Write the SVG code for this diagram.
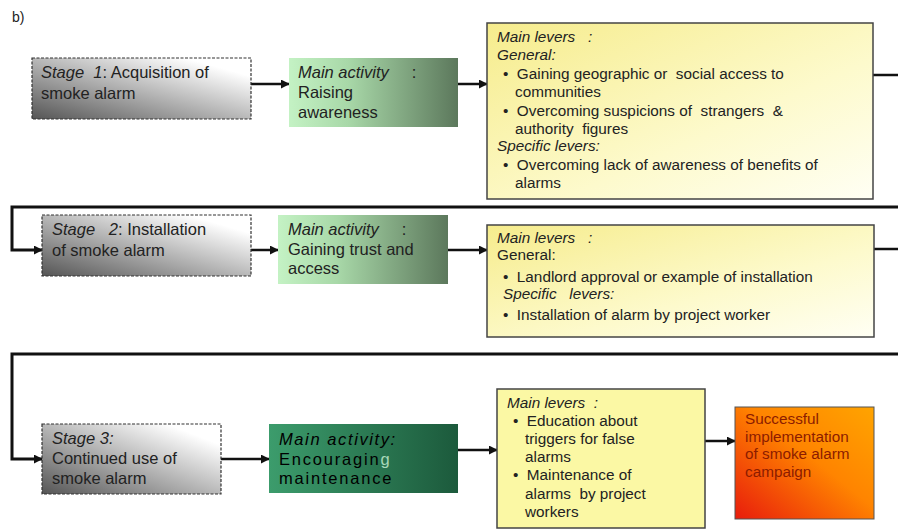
<svg xmlns="http://www.w3.org/2000/svg" width="898" height="529" viewBox="0 0 898 529">
<defs>
<linearGradient id="gStage" x1="0" y1="1" x2="1" y2="0">
<stop offset="0" stop-color="#555555"/><stop offset="0.85" stop-color="#ffffff"/><stop offset="1" stop-color="#ffffff"/>
</linearGradient>
<linearGradient id="gAct" x1="0" y1="0" x2="1" y2="0">
<stop offset="0" stop-color="#c4f2c4"/><stop offset="0.35" stop-color="#a8d8a8"/><stop offset="1" stop-color="#5c785c"/>
</linearGradient>
<linearGradient id="gAct3" x1="0" y1="0" x2="1" y2="0">
<stop offset="0" stop-color="#3c9c6c"/><stop offset="1" stop-color="#1c5a3c"/>
</linearGradient>
<linearGradient id="gLev" x1="0" y1="0" x2="1" y2="1">
<stop offset="0" stop-color="#f6ec8c"/><stop offset="0.6" stop-color="#fdfacc"/><stop offset="1" stop-color="#fffff4"/>
</linearGradient>
<linearGradient id="gEnd" x1="0" y1="1" x2="1" y2="0">
<stop offset="0" stop-color="#e81c0c"/><stop offset="0.55" stop-color="#ff8400"/><stop offset="1" stop-color="#ffa400"/>
</linearGradient>
<marker id="ah" viewBox="0 0 10 10" refX="9" refY="5" markerWidth="9" markerHeight="9" markerUnits="userSpaceOnUse" orient="auto">
<path d="M0,0 L10,5 L0,10 z" fill="#111"/>
</marker>
</defs>
<style>
text{font-family:"Liberation Sans",Arial,sans-serif;fill:#222}
.s{font-size:16.5px}
.l{font-size:15.3px}
.i{font-style:italic}
text.dk{fill:#000000}
text.sh{fill:#6fb08e}
text.rd{fill:#8c1c00}
.stage{fill:url(#gStage);stroke:#333;stroke-width:1.2;stroke-dasharray:3,1.5}
.act{fill:url(#gAct)}
.lev{fill:url(#gLev);stroke:#444;stroke-width:1.5}
.c{fill:none;stroke:#111;stroke-width:2.5}
.t{fill:none;stroke:#111;stroke-width:3}
.a{marker-end:url(#ah)}
</style>
<text x="12" y="22" style="font-size:14px">b)</text>

<g id="connectors">
<line class="c a" x1="251" y1="84" x2="289" y2="84"/>
<line class="c a" x1="458" y1="84" x2="487" y2="84"/>
<line class="c" x1="873" y1="75" x2="898" y2="75"/>
<path class="t a" d="M898,207 H12 V250 H42"/>
<line class="c a" x1="251" y1="250" x2="278" y2="250"/>
<line class="c a" x1="448" y1="250" x2="487" y2="250"/>
<line class="c" x1="874" y1="249" x2="898" y2="249"/>
<path class="t a" d="M898,354 H12 V459 H42"/>
<line class="c a" x1="221" y1="459" x2="269" y2="459"/>
<line class="c a" x1="458" y1="450" x2="497" y2="450"/>
<line class="c a" x1="705" y1="441" x2="735" y2="441"/>
</g>

<g id="stage1">
<rect class="stage" x="32" y="58" width="219" height="61"/>
<text class="s" x="41" y="78"><tspan class="i">Stage&#160; 1</tspan>: Acquisition of</text>
<text class="s" x="41" y="99">smoke alarm</text>
</g>
<g id="activity1">
<rect class="act" x="289" y="58" width="169" height="69"/>
<text class="s" x="298" y="78"><tspan class="i">Main activity</tspan>&#160;&#160;&#160;&#160; :</text>
<text class="s" x="298" y="98">Raising</text>
<text class="s" x="298" y="118">awareness</text>
</g>
<g id="levers1">
<rect class="lev" x="487" y="23" width="386" height="176"/>
<text class="l i" x="497" y="42">Main levers&#160;&#160; :</text>
<text class="l i" x="497" y="60">General:</text>
<text class="l" x="503" y="79">•&#160; Gaining geographic or&#160; social access to</text>
<text class="l" x="515" y="97">communities</text>
<text class="l" x="503" y="116">•&#160; Overcoming suspicions of&#160; strangers&#160; &amp;</text>
<text class="l" x="515" y="134">authority&#160; figures</text>
<text class="l i" x="497" y="151">Specific levers:</text>
<text class="l" x="503" y="170">•&#160; Overcoming lack of awareness of benefits of</text>
<text class="l" x="515" y="188">alarms</text>
</g>

<g id="stage2">
<rect class="stage" x="42" y="215" width="209" height="61"/>
<text class="s" x="52" y="235"><tspan class="i">Stage&#160;&#160; 2</tspan>: Installation</text>
<text class="s" x="52" y="256">of smoke alarm</text>
</g>
<g id="activity2">
<rect class="act" x="278" y="215" width="170" height="69"/>
<text class="s" x="288" y="235"><tspan class="i">Main activity</tspan>&#160;&#160;&#160;&#160; :</text>
<text class="s" x="288" y="255">Gaining trust and</text>
<text class="s" x="288" y="274">access</text>
</g>
<g id="levers2">
<rect class="lev" x="487" y="225" width="387" height="112"/>
<text class="l i" x="497" y="243">Main levers&#160;&#160; :</text>
<text class="l" x="497" y="260">General:</text>
<text class="l" x="503" y="282">•&#160; Landlord approval or example of installation</text>
<text class="l i" x="503" y="299">Specific&#160;&#160; levers:</text>
<text class="l" x="503" y="320">•&#160; Installation of alarm by project worker</text>
</g>

<g id="stage3">
<rect class="stage" x="42" y="424" width="179" height="70"/>
<text class="s i" x="52" y="444">Stage 3:</text>
<text class="s" x="52" y="464">Continued use of</text>
<text class="s" x="52" y="484">smoke alarm</text>
</g>
<g id="activity3">
<rect x="269" y="424" width="189" height="69" fill="url(#gAct3)"/>
<text class="s i dk" x="279" y="445" letter-spacing="1.6">Main activity:</text>
<text class="s dk" x="279" y="465" letter-spacing="1.8">Encouragin<tspan style="fill:#a8d8b8">g</tspan></text>
<text class="s dk" x="279" y="484" letter-spacing="1.8">maintenance</text>
</g>
<g id="levers3">
<rect x="497" y="389" width="208" height="139" fill="#fbf8a4" stroke="#444" stroke-width="1.5"/>
<text class="l i" x="507" y="408">Main levers&#160; :</text>
<text class="l" x="513" y="426">•&#160; Education about</text>
<text class="l" x="525" y="444">triggers for false</text>
<text class="l" x="525" y="462">alarms</text>
<text class="l" x="513" y="480">•&#160; Maintenance of</text>
<text class="l" x="525" y="499">alarms&#160; by project</text>
<text class="l" x="525" y="517">workers</text>
</g>
<g id="outcome">
<rect x="735" y="407" width="139" height="112" fill="url(#gEnd)" stroke="#555" stroke-width="1"/>
<text class="l rd" x="745" y="424">Successful</text>
<text class="l rd" x="745" y="442">implementation</text>
<text class="l rd" x="745" y="459">of smoke alarm</text>
<text class="l rd" x="745" y="477">campaign</text>
</g>
</svg>
